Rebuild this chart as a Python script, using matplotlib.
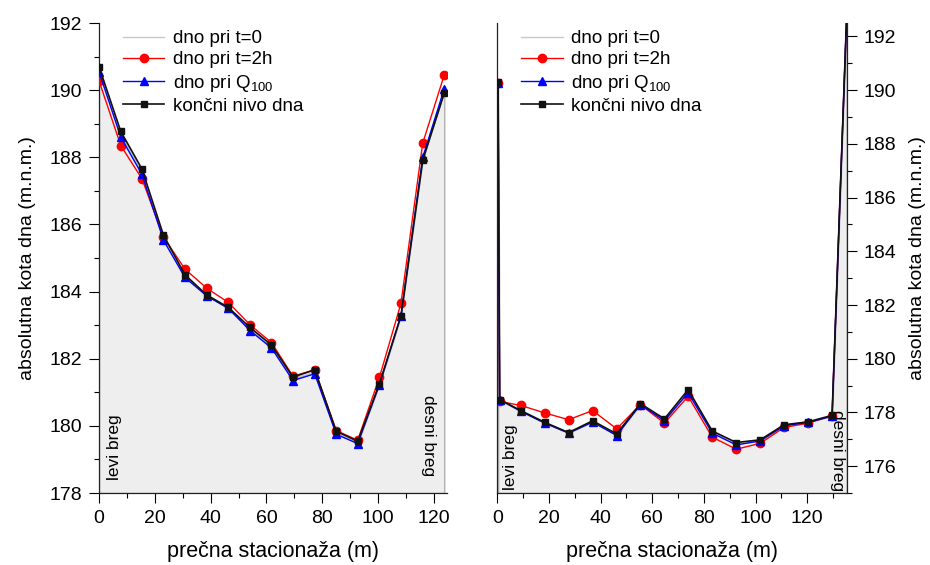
import numpy as np
import matplotlib
matplotlib.use('Agg')
import matplotlib.pyplot as plt
from matplotlib.ticker import MultipleLocator

plt.rcParams['font.family'] = ['Liberation Sans', 'DejaVu Sans']
plt.rcParams['mathtext.default'] = 'regular'

# ---- left cross-section ----
x_levi = [0, 7.8, 15.4, 23.1, 30.8, 38.6, 46.3, 54.1, 61.8, 69.5, 77.3, 85.0, 92.7, 100.5, 108.2, 116.0, 123.7]
t0_levi = [190.62, 188.68, 187.55, 185.60, 184.45, 183.88, 183.51, 182.88, 182.36, 181.40, 181.60, 179.80, 179.50, 181.24, 183.28, 187.95, 189.97]
t2h_levi = [190.28, 188.35, 187.36, 185.62, 184.67, 184.10, 183.68, 183.01, 182.48, 181.48, 181.67, 179.86, 179.57, 181.45, 183.65, 188.42, 190.45]
q100_levi = [190.55, 188.60, 187.49, 185.53, 184.42, 183.87, 183.50, 182.84, 182.32, 181.35, 181.55, 179.75, 179.47, 181.23, 183.28, 188.00, 190.04]
konc_levi = [190.70, 188.77, 187.65, 185.68, 184.50, 183.90, 183.53, 182.93, 182.41, 181.45, 181.67, 179.84, 179.54, 181.26, 183.28, 187.91, 189.91]

# ---- right cross-section ----
x_desni = [0.3, 0.9, 9.1, 18.4, 27.6, 36.9, 46.2, 55.4, 64.7, 73.9, 83.2, 92.5, 101.8, 111.0, 120.3, 129.6, 135.3]
t0_desni = [190.28, 178.46, 178.05, 177.61, 177.24, 177.66, 177.17, 178.31, 177.72, 178.79, 177.27, 176.83, 176.96, 177.52, 177.64, 177.87, 192.9]
t2h_desni = [190.25, 178.41, 178.26, 177.98, 177.73, 178.07, 177.39, 178.29, 177.60, 178.60, 177.08, 176.63, 176.85, 177.44, 177.60, 177.88, 192.9]
q100_desni = [190.28, 178.48, 178.04, 177.60, 177.23, 177.64, 177.14, 178.29, 177.69, 178.73, 177.23, 176.79, 176.94, 177.50, 177.63, 177.86, 192.9]
konc_desni = [190.30, 178.48, 178.07, 177.63, 177.25, 177.69, 177.20, 178.33, 177.76, 178.85, 177.31, 176.88, 176.98, 177.54, 177.65, 177.89, 192.9]

labels = ['dno pri t=0', 'dno pri t=2h', 'dno pri Q$_{100}$', 'končni nivo dna']


def crtaj(ax, x, t0, t2h, q100, konc, ybot):
    ax.fill_between(x, t0, ybot, facecolor='#eeeeee', edgecolor='#b0b0b0', lw=1, zorder=1)
    ax.plot(x, t0, color='#c8c8c8', lw=1, label=labels[0], zorder=2)
    ax.plot(x, t2h, color='red', lw=1, marker='o', ms=6, label=labels[1], zorder=3)
    ax.plot(x, q100, color='blue', lw=1, marker='^', ms=6, label=labels[2], zorder=4)
    ax.plot(x, konc, color='#111111', lw=1.2, marker='s', ms=5, label=labels[3], zorder=5)
    ax.xaxis.set_major_locator(MultipleLocator(20))
    ax.xaxis.set_minor_locator(MultipleLocator(10))
    ax.yaxis.set_major_locator(MultipleLocator(2))
    ax.yaxis.set_minor_locator(MultipleLocator(1))
    ax.tick_params(which='major', direction='out', length=7, width=0.8, labelsize=14, pad=5)
    ax.tick_params(which='minor', direction='out', length=3.5, width=0.8)
    ax.spines['top'].set_visible(False)
    for s in ax.spines.values():
        s.set_color('#222222')
        s.set_linewidth(0.9)
    ax.set_xlabel('prečna stacionaža (m)', fontsize=15.5, labelpad=10)
    ax.legend(loc='upper left', bbox_to_anchor=(0.069, 0.985), frameon=False, fontsize=13.5,
              handlelength=2.2, handletextpad=0.45, labelspacing=0.22, borderpad=0, borderaxespad=0)


fig = plt.figure(figsize=(9.3, 5.65), dpi=100)

ax1 = fig.add_axes([99 / 930, 72 / 565, 348.3 / 930, 470 / 565])
crtaj(ax1, x_levi, t0_levi, t2h_levi, q100_levi, konc_levi, 178)
ax1.set_xlim(0, 124.8)
ax1.set_ylim(178, 192)
ax1.spines['right'].set_visible(False)
ax1.set_ylabel('absolutna kota dna (m.n.m.)', fontsize=14, labelpad=10)
ax1.text(5.7, 178.4, 'levi breg', rotation=90, ha='center', va='bottom', fontsize=12.5)
ax1.text(117.9, 180.92, 'desni breg', rotation=270, ha='center', va='top', fontsize=12.5)

ax2 = fig.add_axes([497.3 / 930, 72 / 565, 350 / 930, 470 / 565])
crtaj(ax2, x_desni, t0_desni, t2h_desni, q100_desni, konc_desni, 175)
ax2.set_xlim(0, 135.5)
ax2.set_ylim(175, 192.5)
ax2.yaxis.tick_right()
ax2.yaxis.set_label_position('right')
ax2.tick_params(axis='y', which='both', left=False, right=True)
ax2.set_ylabel('absolutna kota dna (m.n.m.)', fontsize=14, labelpad=9, rotation=90)
ax2.text(5.3, 175.12, 'levi breg', rotation=90, ha='center', va='bottom', fontsize=12.5)
ax2.text(131.6, 178.1, 'desni breg', rotation=270, ha='center', va='top', fontsize=12.5)

fig.savefig('out.png', dpi=100)
